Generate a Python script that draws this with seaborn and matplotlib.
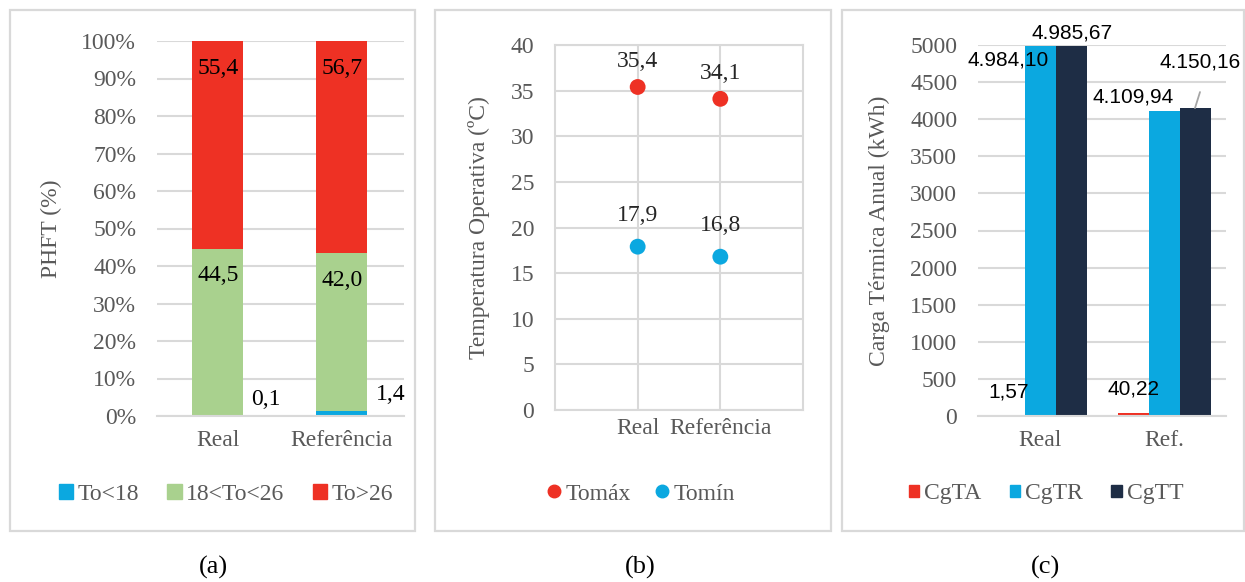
import numpy as np
import pandas as pd
import matplotlib
matplotlib.use("Agg")
import matplotlib.pyplot as plt
from matplotlib.patches import Rectangle, Patch
from matplotlib.lines import Line2D
import seaborn as sns

# ---------- data ----------
cats_a = ["Real", "Referência"]
to_lt18 = [0.1, 1.4]
to_mid = [44.5, 42.0]
to_gt26 = [55.4, 56.7]

cats_b = ["Real", "Referência"]
to_max = [35.4, 34.1]
to_min = [17.9, 16.8]

cats_c = ["Real", "Ref."]
series_c = ["CgTA", "CgTR", "CgTT"]
cg_ta = [1.57, 40.22]
cg_tr = [4984.10, 4109.94]
cg_tt = [4985.67, 4150.16]

# ---------- style ----------
sns.set_theme(style="white")
plt.rcParams["font.family"] = ["Liberation Serif", "DejaVu Serif"]
RED = "#EE3124"
GREEN = "#A9D18E"
BLUE = "#0BA8E0"
NAVY = "#1E2D45"
GRID = "#D9D9D9"
TICK = "#595959"
FS = 17

W, H = 1245, 582
fig = plt.figure(figsize=(W / 100, H / 100), dpi=100, facecolor="white")


def px_axes(x0, y0, x1, y1):
    return fig.add_axes([x0 / W, 1 - y1 / H, (x1 - x0) / W, (y1 - y0) / H])


def panel_box(x0, y0, x1, y1):
    fig.patches.append(Rectangle((x0 / W, 1 - y1 / H), (x1 - x0) / W, (y1 - y0) / H,
                                 transform=fig.transFigure, fill=False,
                                 edgecolor=GRID, lw=1.6))


def fmt_pt(v, dec=1):
    s = f"{v:,.{dec}f}"
    return s.replace(",", "X").replace(".", ",").replace("X", ".")


def base_style(ax):
    ax.set_facecolor("white")
    ax.tick_params(length=0, labelsize=FS, labelcolor=TICK)
    for s in ["top", "right", "left"]:
        ax.spines[s].set_visible(False)
    ax.spines["bottom"].set_color(GRID)
    ax.spines["bottom"].set_linewidth(1.5)
    ax.yaxis.grid(True, color=GRID, lw=1.5)
    ax.set_axisbelow(True)
    ax.set_xlabel("")


panel_box(10, 10, 415, 531)
panel_box(435, 10, 831, 531)
panel_box(842, 10, 1244, 531)

# ---------- (a) stacked 100% ----------
ax = px_axes(157, 41, 404, 416)
df_a = pd.DataFrame({"cat": cats_a, "lt": to_lt18, "mid": to_mid, "gt": to_gt26})
tot = df_a[["lt", "mid", "gt"]].sum(axis=1)
df_a["c_lt"] = df_a["lt"] / tot * 100
df_a["c_mid"] = (df_a["lt"] + df_a["mid"]) / tot * 100
df_a["c_gt"] = 100.0
bw = 0.41
for col, c in [("c_gt", RED), ("c_mid", GREEN), ("c_lt", BLUE)]:
    sns.barplot(data=df_a, x="cat", y=col, color=c, width=bw, saturation=1,
                linewidth=0, edgecolor="none", ax=ax)
base_style(ax)
ax.set_xlim(-0.49, 1.5)
ax.set_ylim(0, 100)
ax.set_yticks(np.arange(0, 101, 10))
ax.set_yticklabels([f"{t}%" for t in range(0, 101, 10)])
ax.tick_params(axis="y", pad=15)
ax.tick_params(axis="x", pad=10)
ax.set_ylabel("PHFT (%)", fontsize=FS, color=TICK)
ax.yaxis.set_label_coords(-0.385, 0.5)
for i, r in df_a.iterrows():
    ax.annotate(fmt_pt(r["gt"]), (i, 100), xytext=(0, -28 * 0.72), textcoords="offset points",
                ha="center", va="center", fontsize=FS, color="black")
    ax.annotate(fmt_pt(r["mid"]), (i, r["c_mid"]), xytext=(0, -27 * 0.72), textcoords="offset points",
                ha="center", va="center", fontsize=FS, color="black")
    ax.annotate(fmt_pt(r["lt"]), (i + bw / 2, r["c_lt"]), xytext=(23 * 0.72, 16 * 0.72),
                textcoords="offset points", ha="center", va="center", fontsize=FS, color="black")
h_a = [Patch(color=BLUE), Patch(color=GREEN), Patch(color=RED)]
ax.legend(h_a, ["To<18", "18<To<26", "To>26"], loc="center",
          bbox_to_anchor=(226 / W, 1 - 494 / H), bbox_transform=fig.transFigure,
          ncol=3, frameon=False, fontsize=FS, handlelength=0.6, handleheight=0.6,
          handletextpad=0.2, columnspacing=1.2, labelcolor=TICK)

# ---------- (b) temperatures ----------
ax = px_axes(555, 45, 803, 410)
df_b = pd.DataFrame({"cat": cats_b * 2, "val": to_max + to_min,
                     "serie": ["Tomáx"] * 2 + ["Tomín"] * 2})
sns.scatterplot(data=df_b, x="cat", y="val", hue="serie", palette=[RED, BLUE],
                s=130, edgecolor="none", legend=False, ax=ax, zorder=3)
base_style(ax)
for s in ["left", "right", "top"]:
    ax.spines[s].set_visible(True)
    ax.spines[s].set_color(GRID)
    ax.spines[s].set_linewidth(1.5)
ax.xaxis.grid(True, color=GRID, lw=1.5)
ax.set_xlim(-1, 2)
ax.set_ylim(0, 40)
ax.set_yticks(np.arange(0, 41, 5))
ax.tick_params(axis="y", pad=15)
ax.tick_params(axis="x", pad=6)
ax.set_ylabel("Temperatura Operativa (ºC)", fontsize=FS, color=TICK)
ax.set_xlabel("")
ax.yaxis.set_label_coords(-0.262, 0.5)
for i, (mx, mn) in enumerate(zip(to_max, to_min)):
    ax.annotate(fmt_pt(mx), (i, mx), xytext=(0, 25 * 0.72), textcoords="offset points",
                ha="center", va="center", fontsize=FS, color="#262626")
    ax.annotate(fmt_pt(mn), (i, mn), xytext=(0, 31 * 0.72), textcoords="offset points",
                ha="center", va="center", fontsize=FS, color="#262626")
h_b = [Line2D([], [], marker="o", ls="", color=RED, markersize=9),
       Line2D([], [], marker="o", ls="", color=BLUE, markersize=9)]
ax.legend(h_b, ["Tomáx", "Tomín"], loc="center",
          bbox_to_anchor=(641 / W, 1 - 494 / H), bbox_transform=fig.transFigure,
          ncol=2, frameon=False, fontsize=FS, handlelength=0.6, handletextpad=0.2,
          columnspacing=1.0, labelcolor=TICK)

# ---------- (c) thermal load ----------
ax = px_axes(978, 45, 1226, 416)
df_c = pd.DataFrame({"cat": cats_c * 3, "val": cg_ta + cg_tr + cg_tt,
                     "serie": [s for s in series_c for _ in cats_c]})
sns.barplot(data=df_c, x="cat", y="val", hue="serie", palette=[RED, BLUE, NAVY],
            width=0.75, saturation=1, legend=False, linewidth=0, edgecolor="none", ax=ax)
base_style(ax)
ax.set_xlim(-0.5, 1.5)
ax.set_ylim(0, 5000)
ax.set_yticks(np.arange(0, 5001, 500))
ax.tick_params(axis="y", pad=15)
ax.tick_params(axis="x", pad=10)
ax.set_ylabel("Carga Térmica Anual (kWh)", fontsize=FS, color=TICK)
ax.yaxis.set_label_coords(-0.355, 0.5)
# label offsets (px) per series / category
offs = {("CgTA", 0): (0, 24), ("CgTA", 1): (0, 24),
        ("CgTR", 0): (-32, -14), ("CgTR", 1): (-31, 14),
        ("CgTT", 0): (1, 13), ("CgTT", 1): (5, 46)}
bwc = 0.75 / 3
for j, s in enumerate(series_c):
    vals = df_c[df_c["serie"] == s]["val"].tolist()
    for i, v in enumerate(vals):
        xc = i + (j - 1) * bwc
        dx, dy = offs[(s, i)]
        ax.annotate(fmt_pt(v, 2), (xc, v), xytext=(dx * 0.72, dy * 0.72),
                    textcoords="offset points", ha="center", va="center",
                    fontsize=15, color="black", family=["Liberation Sans", "DejaVu Sans"],
                    annotation_clip=False)
# leader line for the last label
ax.annotate("", (1 + bwc, cg_tt[1]), xytext=(5 * 0.72, 16 * 0.72), textcoords="offset points",
            arrowprops=dict(arrowstyle="-", color="#A6A6A6", lw=1.3, shrinkA=0, shrinkB=0))
h_c = [Patch(color=RED), Patch(color=BLUE), Patch(color=NAVY)]
ax.legend(h_c, series_c, loc="center",
          bbox_to_anchor=(1046 / W, 1 - 494 / H), bbox_transform=fig.transFigure,
          ncol=3, frameon=False, fontsize=FS, handlelength=0.45, handleheight=0.45,
          handletextpad=0.2, columnspacing=1.2, labelcolor=TICK)

# sub-figure letters
for x, t in [(213, "(a)"), (640, "(b)"), (1045, "(c)")]:
    fig.text(x / W, 1 - 567 / H, t, ha="center", va="center", fontsize=19, color="black")

fig.savefig("out.png", dpi=100, facecolor="white")
